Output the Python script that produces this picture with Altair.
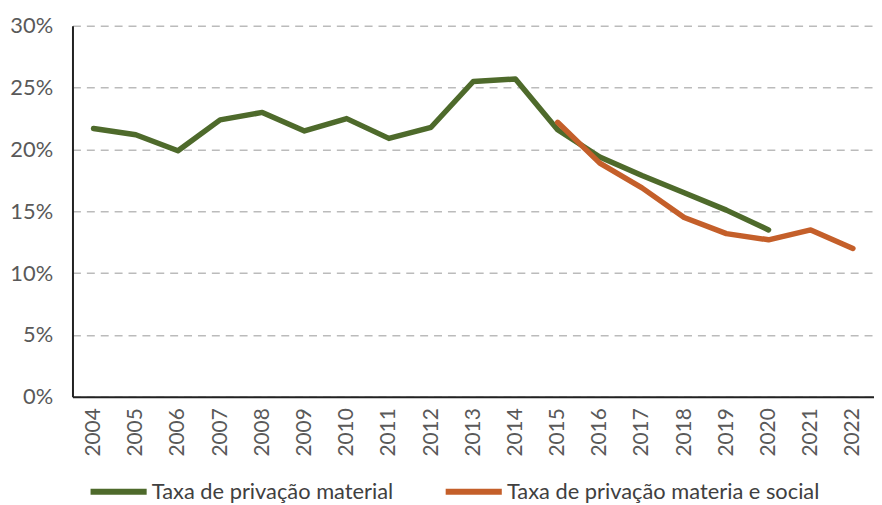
import altair as alt
import pandas as pd

years = [str(y) for y in range(2004, 2023)]
material = [21.7, 21.2, 19.9, 22.4, 23.0, 21.5, 22.5, 20.9, 21.8, 25.5, 25.7,
            21.6, 19.4, 17.9, 16.5, 15.1, 13.5, None, None]
mat_social = [None, None, None, None, None, None, None, None, None, None, None,
              22.2, 18.9, 16.9, 14.5, 13.2, 12.7, 13.5, 12.0]
series_names = ["Taxa de privação material", "Taxa de privação materia e social"]
colors = ["#4E6A2B", "#C45F2A"]

rows = []
for name, vals in zip(series_names, [material, mat_social]):
    for y, v in zip(years, vals):
        if v is not None:
            rows.append({"ano": y, "valor": v / 100, "serie": name})
df = pd.DataFrame(rows)

FONT = "Lato"

chart = alt.Chart(df).mark_line(strokeWidth=5.5, strokeCap="round", strokeJoin="round").encode(
    x=alt.X("ano:O", sort=years, scale=alt.Scale(domain=years),
            axis=alt.Axis(title=None, labelAngle=-90, labelFontSize=21, labelColor="#595959",
                          labelFont=FONT, ticks=False, domainColor="#222222", domainWidth=2,
                          labelPadding=11, grid=False, labelBaseline="middle", labelAlign="right")),
    y=alt.Y("valor:Q", scale=alt.Scale(domain=[0, 0.3]),
            axis=alt.Axis(title=None, format=".0%", values=[0, 0.05, 0.1, 0.15, 0.2, 0.25, 0.3],
                          labelFontSize=22, labelColor="#595959", labelFont=FONT, ticks=False,
                          domainColor="#222222", domainWidth=2, labelPadding=20,
                          grid=True, gridColor="#BBBBBB", gridDash=[8, 6], gridWidth=1.5)),
    color=alt.Color("serie:N", scale=alt.Scale(domain=series_names, range=colors),
                    legend=alt.Legend(title=None, orient="none", legendX=15, legendY=438,
                                      direction="horizontal", symbolType="stroke",
                                      symbolStrokeWidth=6, symbolSize=3200, labelFontSize=22,
                                      labelFont=FONT, labelColor="#404040", labelLimit=500,
                                      columnPadding=40, labelOffset=2)),
).properties(
    width=808, height=374,
    padding={"left": 65, "top": 16, "right": 0, "bottom": 105},
    autosize=alt.AutoSizeParams(type="none"),
).configure_view(stroke=None)

chart.save("out.html", embed_options={"renderer": "svg", "actions": False})
